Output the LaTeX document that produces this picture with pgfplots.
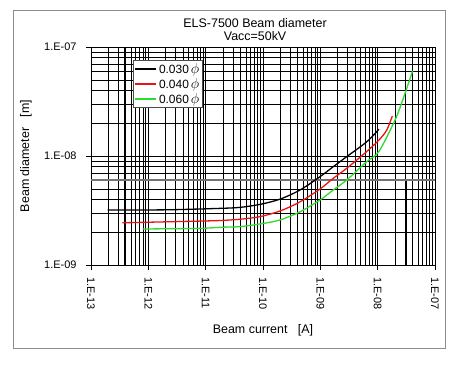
\documentclass[border=0pt]{standalone}
\usepackage{fontspec}
\setmainfont{Liberation Sans}
\usepackage{pgfplots}
\pgfplotsset{compat=1.18}
\definecolor{cgreen}{RGB}{45,220,45}
\definecolor{cred}{RGB}{235,20,20}
\newcommand{\tickfont}{\fontsize{11}{12}\selectfont}
\newcommand{\legfont}{\fontsize{12}{13}\selectfont}
\newcommand{\labfont}{\fontsize{12.5}{13}\selectfont}
\newcommand{\phis}{\,{\fontsize{14}{14}\selectfont$\phi$}}
\begin{document}
\begin{tikzpicture}[x=1bp,y=1bp]
\path[use as bounding box] (-91,-99) rectangle (368,265);
\draw[black!45, line width=0.8bp] (-78,-83) rectangle (354,255);
\begin{axis}[
 at={(0,0)}, anchor=south west,
 scale only axis, width=344bp, height=218bp,
 xmode=log, ymode=log,
 xmin=1e-13, xmax=1e-7, ymin=1e-9, ymax=1e-7,
 xtick={1e-13,1e-12,1e-11,1e-10,1e-9,1e-8,1e-7},
 xticklabels={1.E-13,1.E-12,1.E-11,1.E-10,1.E-09,1.E-08,1.E-07},
 ytick={1e-9,1e-8,1e-7},
 yticklabels={1.E-09,1.E-08,1.E-07},
 minor xtick={2e-13,3e-13,4e-13,5e-13,6e-13,7e-13,8e-13,9e-13,
  2e-12,3e-12,4e-12,5e-12,6e-12,7e-12,8e-12,9e-12,
  2e-11,3e-11,4e-11,5e-11,6e-11,7e-11,8e-11,9e-11,
  2e-10,3e-10,4e-10,5e-10,6e-10,7e-10,8e-10,9e-10,
  2e-9,3e-9,4e-9,5e-9,6e-9,7e-9,8e-9,9e-9,
  2e-8,3e-8,4e-8,5e-8,6e-8,7e-8,8e-8,9e-8},
 minor ytick={2e-9,3e-9,4e-9,5e-9,6e-9,7e-9,8e-9,9e-9,
  2e-8,3e-8,4e-8,5e-8,6e-8,7e-8,8e-8,9e-8},
 grid=both,
 major grid style={black, line width=0.5bp},
 minor grid style={black, line width=0.45bp},
 tick align=outside, major tick length=5bp, minor tick length=0pt,
 xtick pos=bottom, ytick pos=left,
 tick style={black, line width=0.5bp},
 axis line style={black, line width=0.5bp},
 xticklabel style={rotate=-90, anchor=west, font=\tickfont},
 xticklabel shift=4bp,
 yticklabel style={font=\tickfont},
 yticklabel shift=6bp,
 xlabel={Beam current\ \ \ [A]},
 ylabel={Beam diameter\ \ \ [m]},
 xlabel style={at={(axis description cs:0.5,-0.298)}, anchor=center, font=\labfont},
 ylabel style={at={(axis description cs:-0.189,0.5)}, anchor=center, font=\labfont},
 title={ELS-7500 Beam diameter\\Vacc=50kV},
 title style={align=center, at={(axis description cs:0.477,1)}, anchor=south, yshift=0.5bp, inner sep=0pt, font=\labfont},
 legend style={at={(axis description cs:0.122,0.94)}, anchor=north west,
   draw=black!70, line width=0.5bp, fill=white, inner sep=1bp,
   font=\legfont, row sep=-0.5bp, nodes={inner sep=2bp}},
 legend cell align=left,
 legend image code/.code={\draw[#1, line width=1.8bp] (0bp,0bp) -- (21bp,0bp);},
]
\addplot[black, line width=1bp, forget plot] coordinates {(3.9e-13,1e-9) (3.9e-13,1e-7)};
\addplot[black, line width=1bp, forget plot] coordinates {(3e-11,1e-9) (3e-11,6e-9)};
\addplot[black, line width=1bp, forget plot] coordinates {(3.2e-8,1e-9) (3.2e-8,6e-9)};
\addplot[black!55, line width=2.5bp, forget plot] coordinates {(1e-13,6e-9) (1e-7,6e-9)};

\addplot[black, line width=1.3bp, smooth] coordinates {
 (1.95e-13,3.2e-9) (2.09e-12,3.21e-9) (1.78e-11,3.31e-9) (3.97e-11,3.38e-9)
 (8.87e-11,3.6e-9) (1.98e-10,4.02e-9) (4.43e-10,4.88e-9) (9.87e-10,6.46e-9)
 (1.68e-9,7.98e-9) (2.88e-9,9.86e-9) (6.44e-9,1.35e-8) (1.05e-8,1.76e-8)};
\addlegendentry{0.030\phis}
\addplot[cred, line width=1.3bp, smooth] coordinates {
 (3.52e-13,2.44e-9) (7.96e-12,2.53e-9) (1.78e-11,2.56e-9) (3.97e-11,2.63e-9)
 (8.87e-11,2.78e-9) (1.98e-10,3.13e-9) (4.43e-10,3.8e-9) (9.87e-10,4.98e-9)
 (1.68e-9,6.24e-9) (2.88e-9,7.71e-9) (6.44e-9,1.10e-8) (1.05e-8,1.40e-8)
 (1.44e-8,1.73e-8) (1.80e-8,2.33e-8)};
\addlegendentry{0.040\phis}
\addplot[cgreen, line width=1.3bp, smooth] coordinates {
 (7.98e-13,2.14e-9) (7.96e-12,2.17e-9) (1.78e-11,2.22e-9) (3.97e-11,2.25e-9)
 (8.87e-11,2.38e-9) (1.98e-10,2.59e-9) (4.43e-10,3.08e-9) (9.87e-10,3.95e-9)
 (1.68e-9,4.88e-9) (2.88e-9,6.02e-9) (6.44e-9,8.87e-9) (1.05e-8,1.10e-8)
 (2.01e-8,2.14e-8) (2.8e-8,3.38e-8) (4.08e-8,6.06e-8)};
\addlegendentry{0.060\phis}
\end{axis}
\end{tikzpicture}
\end{document}
